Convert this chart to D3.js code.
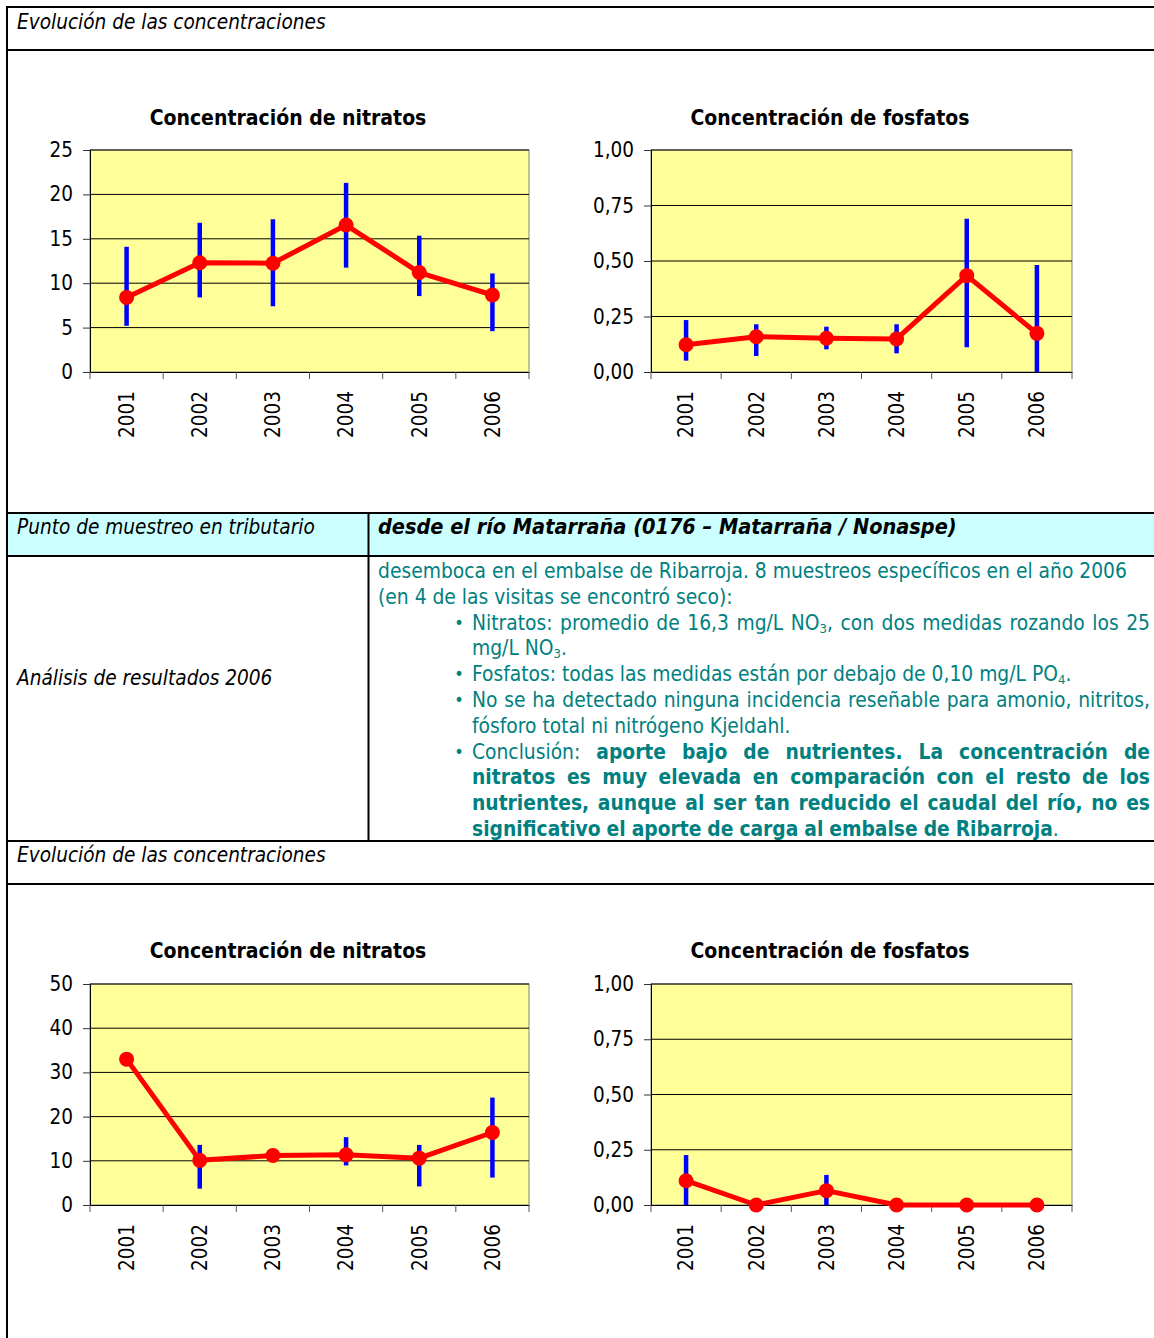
<!DOCTYPE html>
<html>
  <head>
    <meta charset="utf-8">
    <title>Evolución de las concentraciones</title>
    <script src="https://d3js.org/d3.v7.min.js"></script>
    <style>
      body { margin: 0; background: #fff; }
      svg text { font-family: 'DejaVu Sans Condensed', 'DejaVu Sans', sans-serif; font-stretch: condensed; }
    </style>
  </head>
  <body>
    <script>
      // Years on the x axis (same for all four charts)
      var years = ["2001", "2002", "2003", "2004", "2005", "2006"];

      // Top charts: mean and min/max per year
      var nitratosArribaMedia = [8.4, 12.3, 12.25, 16.55, 11.2, 8.67];
      var nitratosArribaMin   = [5.2, 8.4, 7.4, 11.75, 8.55, 4.6];
      var nitratosArribaMax   = [14.1, 16.8, 17.2, 21.3, 15.35, 11.1];

      var fosfatosArribaMedia = [0.123, 0.159, 0.152, 0.149, 0.434, 0.174];
      var fosfatosArribaMin   = [0.051, 0.072, 0.102, 0.084, 0.111, 0];
      var fosfatosArribaMax   = [0.234, 0.215, 0.204, 0.215, 0.69, 0.482];

      // Bottom charts (Matarraña / Nonaspe)
      var nitratosAbajoMedia = [33.0, 10.1, 11.2, 11.35, 10.6, 16.4];
      var nitratosAbajoMin   = [null, 3.7, null, 8.95, 4.2, 6.2];
      var nitratosAbajoMax   = [null, 13.6, null, 15.35, 13.6, 24.3];

      var fosfatosAbajoMedia = [0.110, 0, 0.065, 0, 0, 0];
      var fosfatosAbajoMin   = [0, null, 0, null, null, null];
      var fosfatosAbajoMax   = [0.226, null, 0.136, null, null, null];

      // Tick values
      var ticksNitratos25 = [0, 5, 10, 15, 20, 25];
      var ticksNitratos50 = [0, 10, 20, 30, 40, 50];
      var ticksFosfatos   = [0, 0.25, 0.5, 0.75, 1];

      // Text of the analysis cell ("**" toggles bold, "_" makes next char subscript)
      var analisisLineas = [
        { bullet: false, indent: false, just: false, text: "desemboca en el embalse de Ribarroja. 8 muestreos específicos en el año 2006" },
        { bullet: false, indent: false, just: false, text: "(en 4 de las visitas se encontró seco):" },
        { bullet: true,  indent: true,  just: true,  text: "Nitratos: promedio de 16,3 mg/L NO_3, con dos medidas rozando los 25" },
        { bullet: false, indent: true,  just: false, text: "mg/L NO_3." },
        { bullet: true,  indent: true,  just: false, text: "Fosfatos: todas las medidas están por debajo de 0,10 mg/L PO_4." },
        { bullet: true,  indent: true,  just: true,  text: "No se ha detectado ninguna incidencia reseñable para amonio, nitritos," },
        { bullet: false, indent: true,  just: false, text: "fósforo total ni nitrógeno Kjeldahl." },
        { bullet: true,  indent: true,  just: true,  text: "Conclusión: **aporte bajo de nutrientes. La concentración de" },
        { bullet: false, indent: true,  just: true,  text: "**nitratos es muy elevada en comparación con el resto de los" },
        { bullet: false, indent: true,  just: true,  text: "**nutrientes, aunque al ser tan reducido el caudal del río, no es" },
        { bullet: false, indent: true,  just: false, text: "**significativo el aporte de carga al embalse de Ribarroja**." }
      ];

      var W = 1154, H = 1338;
      var svg = d3.select("body").append("svg")
                  .attr("width", W)
                  .attr("height", H);

      // ---- table frame ----
      svg.append("rect")
         .attr("x", 8).attr("y", 514).attr("width", W - 8).attr("height", 42)
         .attr("fill", "#CCFFFF");

      [7, 50, 513, 556, 841, 884].forEach(function(yy) {
        svg.append("line").attr("x1", 6).attr("x2", W).attr("y1", yy).attr("y2", yy)
           .attr("stroke", "#000").attr("stroke-width", 2);
      });
      svg.append("line").attr("x1", 7).attr("x2", 7).attr("y1", 6).attr("y2", H)
         .attr("stroke", "#000").attr("stroke-width", 2);
      svg.append("line").attr("x1", 368.5).attr("x2", 368.5).attr("y1", 513).attr("y2", 841)
         .attr("stroke", "#000").attr("stroke-width", 2);

      function label(txt, x, y, size, style, weight) {
        svg.append("text").attr("x", x).attr("y", y)
           .style("font-size", size + "px")
           .style("font-style", style || "normal")
           .style("font-weight", weight || "normal")
           .attr("fill", "#000")
           .text(txt);
      }
      label("Evolución de las concentraciones", 17, 29, 20.6, "italic");
      label("Evolución de las concentraciones", 17, 862, 20.6, "italic");
      label("Punto de muestreo en tributario", 17, 534, 20.6, "italic");
      label("desde el río Matarraña (0176 – Matarraña / Nonaspe)", 378, 534, 21.5, "italic", "bold");
      label("Análisis de resultados 2006", 17, 685, 20.6, "italic");

      // ---- analysis text, laid out word by word ----
      function parseWords(str) {
        var words = [], cur = [], bold = false, i = 0;
        function addChar(ch, sub) {
          var last = cur[cur.length - 1];
          if (last && last.bold === bold && last.sub === sub) last.t += ch;
          else cur.push({ t: ch, bold: bold, sub: sub });
        }
        while (i < str.length) {
          if (str.substr(i, 2) === "**") { bold = !bold; i += 2; continue; }
          var ch = str[i];
          if (ch === "_") { addChar(str[i + 1], true); i += 2; continue; }
          if (ch === " ") { if (cur.length) words.push(cur); cur = []; i++; continue; }
          addChar(ch, false); i++;
        }
        if (cur.length) words.push(cur);
        return words;
      }

      var bodySize = 20.8;
      var texto = svg.append("g").attr("fill", "#008080");
      var probe = texto.append("text").style("font-size", bodySize + "px").text("nn");
      var w2 = probe.node().getComputedTextLength();
      probe.text("n n");
      var spaceW = probe.node().getComputedTextLength() - w2;
      probe.remove();

      var baseY = 578, lineH = 25.8, rightEdge = 1150;
      analisisLineas.forEach(function(ln, li) {
        var y0 = baseY + li * lineH;
        var x0 = ln.indent ? 472 : 378;
        if (ln.bullet) {
          texto.append("text").attr("x", 459).attr("y", y0 - 1)
               .attr("text-anchor", "middle").style("font-size", "18px").text("•");
        }
        var words = parseWords(ln.text);
        var nodes = words.map(function(runs) {
          var t = texto.append("text").attr("y", y0).style("font-size", bodySize + "px");
          var shift = 0;
          runs.forEach(function(r) {
            var ts = t.append("tspan").text(r.t)
                      .style("font-weight", r.bold ? "bold" : "normal");
            if (r.sub) { ts.style("font-size", "13px").attr("dy", 3 - shift); shift = 3; }
            else if (shift) { ts.attr("dy", -shift); shift = 0; }
          });
          return t;
        });
        var widths = nodes.map(function(t) { return t.node().getComputedTextLength(); });
        var gap = spaceW;
        if (ln.just && nodes.length > 1) {
          gap = (rightEdge - x0 - d3.sum(widths)) / (nodes.length - 1);
        }
        var xx = x0;
        nodes.forEach(function(t, k) {
          t.attr("x", xx);
          xx += widths[k] + gap;
        });
      });

      // ---- charts ----
      var fmtComa = d3.formatLocale({ decimal: ",", thousands: ".", grouping: [3], currency: ["", "€"] }).format(".2f");

      function chart(cfg) {
        var g = svg.append("g");
        var x = d3.scaleBand().domain(years).range([cfg.left, cfg.right]).padding(0);
        var y = d3.scaleLinear().domain([0, cfg.yMax]).range([cfg.bottom, cfg.top]);
        var cx = function(d) { return x(d.year) + x.bandwidth() / 2; };

        var data = years.map(function(d, i) {
          return { year: d, mean: cfg.mean[i], lo: cfg.min[i], hi: cfg.max[i] };
        });

        // plot area
        g.append("rect")
         .attr("x", cfg.left).attr("y", cfg.top)
         .attr("width", cfg.right - cfg.left).attr("height", cfg.bottom - cfg.top)
         .attr("fill", "#FFFF99").attr("stroke", "#808080");

        // gridlines
        g.selectAll(".grid").data(cfg.ticks.slice(1)).join("line")
         .attr("x1", cfg.left).attr("x2", cfg.right)
         .attr("y1", function(d) { return y(d); }).attr("y2", function(d) { return y(d); })
         .attr("stroke", "#000").attr("stroke-width", 1);

        // y axis
        var ya = g.append("g")
                  .attr("transform", "translate(" + cfg.left + ",0)")
                  .call(d3.axisLeft(y).tickValues(cfg.ticks).tickFormat(cfg.fmt).tickSize(7).tickPadding(10));
        ya.select(".domain").attr("stroke", "#000");
        ya.selectAll(".tick line").attr("stroke", "#333");
        ya.selectAll("text").style("font-size", "20.5px").attr("fill", "#000");

        // x axis: labels at centres, ticks between categories
        var xa = g.append("g")
                  .attr("transform", "translate(0," + cfg.bottom + ")")
                  .call(d3.axisBottom(x).tickSize(0).tickPadding(0));
        xa.select(".domain").attr("stroke", "#000");
        xa.selectAll("text")
          .attr("transform", "rotate(-90)")
          .attr("text-anchor", "end")
          .attr("x", -19).attr("y", 0).attr("dy", "0.36em")
          .style("font-size", "20.5px").attr("fill", "#000");

        g.selectAll(".xt").data(years.map(function(d) { return x(d); }).concat([cfg.right])).join("line")
         .attr("x1", function(d) { return d; }).attr("x2", function(d) { return d; })
         .attr("y1", cfg.bottom).attr("y2", cfg.bottom + 7)
         .attr("stroke", "#555");

        // min-max bars
        g.selectAll(".err").data(data.filter(function(d) { return d.lo != null; })).join("line")
         .attr("x1", cx).attr("x2", cx)
         .attr("y1", function(d) { return y(d.lo); })
         .attr("y2", function(d) { return y(d.hi); })
         .attr("stroke", "#0000FF").attr("stroke-width", 4.5);

        // mean line and markers
        g.append("path").datum(data)
         .attr("d", d3.line().x(cx).y(function(d) { return y(d.mean); }))
         .attr("fill", "none").attr("stroke", "#FF0000")
         .attr("stroke-width", 5).attr("stroke-linejoin", "round");

        g.selectAll(".pt").data(data).join("circle")
         .attr("cx", cx).attr("cy", function(d) { return y(d.mean); })
         .attr("r", 7.5).attr("fill", "#FF0000");

        // title
        g.append("text")
         .attr("x", cfg.titleX).attr("y", cfg.titleY)
         .attr("text-anchor", "middle")
         .style("font-size", "21px").style("font-weight", "bold")
         .text(cfg.title);
      }

      chart({ left: 90, right: 529, top: 150, bottom: 372, yMax: 25, ticks: ticksNitratos25, fmt: d3.format("d"),
              mean: nitratosArribaMedia, min: nitratosArribaMin, max: nitratosArribaMax,
              title: "Concentración de nitratos", titleX: 288, titleY: 125 });
      chart({ left: 651, right: 1072, top: 150, bottom: 372, yMax: 1, ticks: ticksFosfatos, fmt: fmtComa,
              mean: fosfatosArribaMedia, min: fosfatosArribaMin, max: fosfatosArribaMax,
              title: "Concentración de fosfatos", titleX: 830, titleY: 125 });
      chart({ left: 90, right: 529, top: 984, bottom: 1205, yMax: 50, ticks: ticksNitratos50, fmt: d3.format("d"),
              mean: nitratosAbajoMedia, min: nitratosAbajoMin, max: nitratosAbajoMax,
              title: "Concentración de nitratos", titleX: 288, titleY: 958 });
      chart({ left: 651, right: 1072, top: 984, bottom: 1205, yMax: 1, ticks: ticksFosfatos, fmt: fmtComa,
              mean: fosfatosAbajoMedia, min: fosfatosAbajoMin, max: fosfatosAbajoMax,
              title: "Concentración de fosfatos", titleX: 830, titleY: 958 });
    </script>
  </body>
</html>
